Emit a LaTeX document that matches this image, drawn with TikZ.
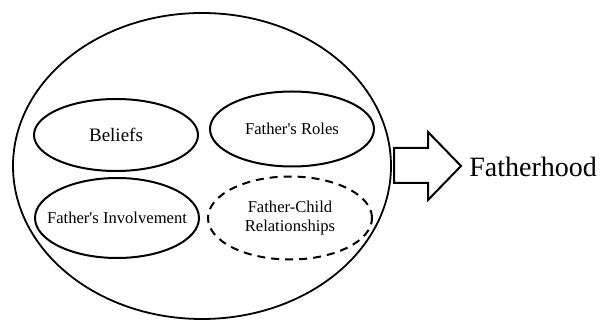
\documentclass[tikz,border=0pt]{standalone}
\usepackage{fontspec}
\setmainfont{Liberation Serif}
\usetikzlibrary{shapes.geometric}

\begin{document}
\begin{tikzpicture}[%
        x=0.5pt,
        y=-0.5pt,
        part/.style={ellipse, draw, line width=1pt, inner xsep=-10pt, inner ysep=0pt,
                     minimum width=82pt, minimum height=37pt,
                     font=\fontsize{8.3}{9.2}\selectfont, align=center},
        loose/.style={part, dashed, dash pattern=on 4pt off 3pt}
        ]

        \useasboundingbox (0,0) rectangle (600,320);

        \node[ellipse, draw, line width=0.9pt, minimum width=189pt,
              minimum height=153pt, inner sep=0pt] (whole) at (202,166) {};

        \node[part, font=\fontsize{9.5}{11}\selectfont, minimum height=36pt] (beliefs) at (116,135) {Beliefs};
        \node[part, minimum height=37.5pt] (roles) at (292,129) {Father\textquotesingle s Roles};
        \node[part, minimum height=40pt] (involve) at (117,218) {Father\textquotesingle s Involvement};
        \node[loose, minimum height=41.5pt] (relation) at (290,218) {Father-Child\\Relationships};

        \draw[line width=1pt, line join=miter]
            (394,148) -- (428,148) -- (428,132) -- (461,166)
            -- (428,200) -- (428,183) -- (394,183) -- cycle;

        \node[anchor=west, inner sep=0pt, font=\fontsize{14}{16}\selectfont] (fatherhood) at (469,167) {Fatherhood};

        \end{tikzpicture}
\end{document}
